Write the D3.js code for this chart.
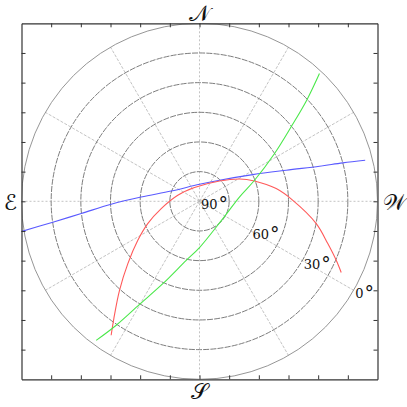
<!DOCTYPE html>
<html>
<head>
<meta charset="utf-8">
<script src="https://cdn.jsdelivr.net/npm/d3@7"></script>
<style>
  html, body { margin: 0; padding: 0; background: #fff; }
</style>
</head>
<body>
<div id="chart"></div>
<script>
// sky chart: azimuth (deg, N=0, E=90) and altitude (deg)
const BLUE_AZ  = [99.7, 98.1, 95.9, 91.9, 85.8, 70.0, 0, 316.4, 296.6, 289.7, 286.3, 285.0, 283.9];
const BLUE_ALT = [-2.3, 15.1, 29.9, 45.3, 60.4, 74.8, 81.4, 75.3, 59.9, 43.4, 26.8, 15.0, 3.7];

const RED_AZ  = [146.6, 143.8, 138.05, 131.0, 122.3, 113.3, 100.8, 74.5, 20.0, 315.4, 299.1, 290.3, 279.4, 270.6, 259.2, 251.75, 246.65, 243.3];
const RED_ALT = [8.85, 16.7, 29.5, 42.0, 53.1, 61.5, 70.3, 78.6, 82.6, 75.6, 66.8, 60.4, 50.7, 42.8, 29.9, 21.7, 14.7, 9.8];

const GREEN_AZ  = [143.4, 146.1, 149.8, 156.0, 167.3, 180, 233.4, 276.1, 290.9, 302.5, 309.1, 313.4, 316.8];
const GREEN_ALT = [2.4, 14.5, 29.7, 44.4, 59.4, 66.6, 75.3, 69.7, 60.2, 45.0, 30.3, 15.2, 1.4];

const RINGS = [75, 60, 45, 30, 15, 0];
const SPOKES = [30, 60, 120, 150, 210, 240, 300, 330];
const ALT_LABELS = [90, 60, 30, 0];
const LABEL_AZ = 240;
const COMPASS = [
  { text: '\u{1D4A9}', az: 0 },
  { text: '\u2130', az: 90 },
  { text: '\u{1D4AE}', az: 180 },
  { text: '\u{1D4B2}', az: 270 }
];

const W = 407, H = 407;
const cx = 199.5, cy = 201.3, R = 178;

const svg = d3.select('#chart').append('svg')
  .attr('width', W).attr('height', H);

const r = d3.scaleLinear().domain([90, 0]).range([0, R]);
const xBox = d3.scaleLinear().domain([-90, 90]).range([cx - R, cx + R]);
const yBox = d3.scaleLinear().domain([90, -90]).range([cy - R, cy + R]);

function project(az, alt) {
  const a = az * Math.PI / 180;
  const rr = r(alt);
  return [cx - rr * Math.sin(a), cy - rr * Math.cos(a)];
}

svg.append('defs').append('clipPath').attr('id', 'box')
  .append('rect')
  .attr('x', cx - R).attr('y', cy - R)
  .attr('width', 2 * R).attr('height', 2 * R);

const g = svg.append('g').attr('clip-path', 'url(#box)');

// spokes
g.selectAll('.spoke')
  .data(SPOKES)
  .join('line')
  .attr('x1', cx).attr('y1', cy)
  .attr('x2', (d) => project(d, 0)[0])
  .attr('y2', (d) => project(d, 0)[1])
  .attr('stroke', '#b4b4b4')
  .attr('stroke-width', 0.8)
  .attr('stroke-dasharray', '3,1.5');

// N-S and E-W lines run to the box edges
g.append('line')
  .attr('x1', xBox(0)).attr('x2', xBox(0))
  .attr('y1', yBox(90)).attr('y2', yBox(-90))
  .attr('stroke', '#b4b4b4').attr('stroke-width', 0.8).attr('stroke-dasharray', '2,2');
g.append('line')
  .attr('y1', yBox(0)).attr('y2', yBox(0))
  .attr('x1', xBox(-90)).attr('x2', xBox(90))
  .attr('stroke', '#b4b4b4').attr('stroke-width', 0.8).attr('stroke-dasharray', '2,2');

// altitude rings
g.selectAll('.ring')
  .data(RINGS)
  .join('circle')
  .attr('cx', cx).attr('cy', cy)
  .attr('r', (d) => r(d))
  .attr('fill', 'none')
  .attr('stroke', (d) => (d === 0 ? '#8a8a8a' : '#6e6e6e'))
  .attr('stroke-width', 0.9)
  .attr('stroke-dasharray', (d) => (d === 0 ? 'none' : '6,1.2'));

// paths
const line = d3.line().curve(d3.curveCatmullRom);
const series = [
  { az: BLUE_AZ, alt: BLUE_ALT, color: '#5a5aff' },
  { az: RED_AZ, alt: RED_ALT, color: '#ff5a5a' },
  { az: GREEN_AZ, alt: GREEN_ALT, color: '#4be84b' }
];
for (const s of series) {
  g.append('path')
    .attr('d', line(s.az.map((a, i) => project(a, s.alt[i]))))
    .attr('fill', 'none')
    .attr('stroke', s.color)
    .attr('stroke-width', 1.1);
}

// frame with inward ticks
const tickVals = d3.range(-75, 90, 15);
const axes = [
  svg.append('g').attr('transform', `translate(0,${cy + R})`)
    .call(d3.axisBottom(xBox).tickValues(tickVals).tickSizeInner(-4).tickSizeOuter(0).tickFormat('')),
  svg.append('g').attr('transform', `translate(0,${cy - R})`)
    .call(d3.axisTop(xBox).tickValues(tickVals).tickSizeInner(-4).tickSizeOuter(0).tickFormat('')),
  svg.append('g').attr('transform', `translate(${cx - R},0)`)
    .call(d3.axisLeft(yBox).tickValues(tickVals).tickSizeInner(-4).tickSizeOuter(0).tickFormat('')),
  svg.append('g').attr('transform', `translate(${cx + R},0)`)
    .call(d3.axisRight(yBox).tickValues(tickVals).tickSizeInner(-4).tickSizeOuter(0).tickFormat(''))
];
for (const ax of axes) {
  ax.select('.domain').attr('stroke', '#333').attr('stroke-width', 1.2);
  ax.selectAll('.tick line').attr('stroke', '#333');
}

// altitude labels along the 240 deg spoke
const lbl = svg.selectAll('.alt-label')
  .data(ALT_LABELS)
  .join('text')
  .attr('x', (d) => project(LABEL_AZ, d)[0] + 1.5)
  .attr('y', (d) => project(LABEL_AZ, d)[1] + 8)
  .attr('font-family', '"DejaVu Serif", serif')
  .attr('font-size', 13)
  .attr('fill', '#111');
lbl.append('tspan').text((d) => d);
lbl.append('tspan')
  .attr('font-size', 19)
  .attr('dx', 1)
  .attr('dy', 1)
  .text('\u00B0');

// compass letters, just outside the frame
const COMPASS_POS = { 0: [0, -188], 90: [-189, 1], 180: [0, 189.5], 270: [195, 1] };
svg.selectAll('.compass')
  .data(COMPASS)
  .join('text')
  .attr('x', (d) => cx + COMPASS_POS[d.az][0])
  .attr('y', (d) => cy + COMPASS_POS[d.az][1])
  .attr('dy', '0.35em')
  .attr('text-anchor', 'middle')
  .attr('font-family', '"DejaVu Serif", "DejaVu Sans", serif')
  .attr('font-size', 22)
  .attr('fill', '#111')
  .text((d) => d.text);
</script>
</body>
</html>
